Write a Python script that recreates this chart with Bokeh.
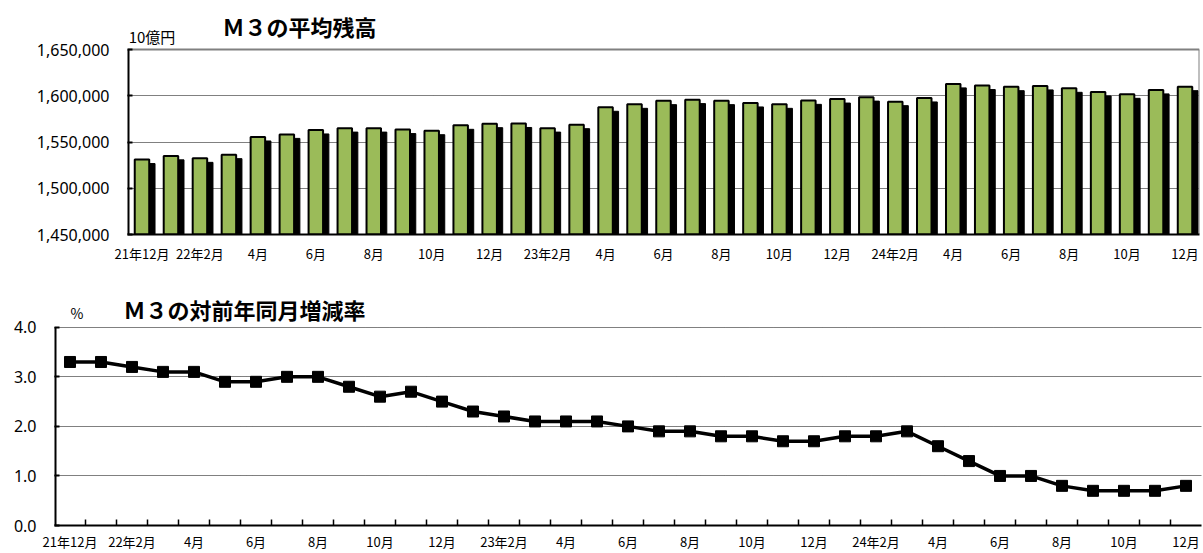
from bokeh.plotting import figure
from bokeh.models import ColumnDataSource, FixedTicker, NumeralTickFormatter, Label, Range1d
from bokeh.layouts import column, row
from bokeh.embed import file_html
from bokeh.resources import INLINE

# ---------------- data ----------------
months = ["21年12月",
          "22年1月", "22年2月", "22年3月", "22年4月", "22年5月", "22年6月",
          "22年7月", "22年8月", "22年9月", "22年10月", "22年11月", "22年12月",
          "23年1月", "23年2月", "23年3月", "23年4月", "23年5月", "23年6月",
          "23年7月", "23年8月", "23年9月", "23年10月", "23年11月", "23年12月",
          "24年1月", "24年2月", "24年3月", "24年4月", "24年5月", "24年6月",
          "24年7月", "24年8月", "24年9月", "24年10月", "24年11月", "24年12月"]

tick_labels = ["21年12月", "22年2月", "4月", "6月", "8月", "10月", "12月",
               "23年2月", "4月", "6月", "8月", "10月", "12月",
               "24年2月", "4月", "6月", "8月", "10月", "12月"]

# M3 average outstanding (10億円)
m3_balance = [1531000, 1535000, 1532300, 1536300, 1555400, 1558200, 1563000,
              1565000, 1565000, 1563400, 1562200, 1568000, 1569800,
              1570000, 1565000, 1568700, 1587500, 1590700, 1594700,
              1595800, 1594700, 1592200, 1590700, 1595000, 1596400,
              1598500, 1593600, 1597600, 1612800, 1611000, 1609800,
              1610600, 1608000, 1604100, 1601500, 1606300, 1609800]
bal_ticks = [1450000, 1500000, 1550000, 1600000, 1650000]

# M3 year-on-year change (%)
m3_yoy = [3.3, 3.3, 3.2, 3.1, 3.1, 2.9, 2.9, 3.0, 3.0, 2.8, 2.6, 2.7, 2.5,
          2.3, 2.2, 2.1, 2.1, 2.1, 2.0, 1.9, 1.9, 1.8, 1.8, 1.7, 1.7,
          1.8, 1.8, 1.9, 1.6, 1.3, 1.0, 1.0, 0.8, 0.7, 0.7, 0.7, 0.8]
yoy_ticks = [0, 1, 2, 3, 4]

n = len(months)
xs = list(range(n))
tick_pos = xs[::2]
overrides = {p: lab for p, lab in zip(tick_pos, tick_labels)}
xl, xr = -0.5, n - 0.5

JP = "Noto Sans CJK JP"
NUM = "Noto Sans"
W = 1202
H_TOTAL = 553

# ---------------- top: bar chart ----------------
# frame reaches the canvas top so that the title texts can sit inside it
H1 = 274
y0, y1 = bal_ticks[0], bal_ticks[-1]
fb = 234                     # frame bottom (px from canvas top)
ppu1 = 185.0 / (y1 - y0)     # px per unit: 1,650,000 at 49px, 1,450,000 at 234px
ytop1 = y0 + fb / ppu1
p1 = figure(width=W, height=H1, output_backend="svg", toolbar_location=None,
            x_range=Range1d(xl, xr), y_range=Range1d(y0, ytop1),
            min_border_left=127, min_border_right=3, min_border_top=0,
            min_border_bottom=H1 - fb)

src = ColumnDataSource(dict(
    x=xs, xs=[x + 0.2 for x in xs], top=m3_balance,
    top_s=[v - 4300 for v in m3_balance]))

p1.vbar(x="xs", top="top_s", bottom=y0, width=0.5, source=src,
        fill_color="black", line_color="black")
p1.vbar(x="x", top="top", bottom=y0, width=0.5, source=src,
        fill_color="#9BBB59", line_color="black", line_width=2)

# plot-area border (top gray, right gray) and left axis line
p1.segment(x0=[xl, xr], y0=[y1, y0], x1=[xr, xr], y1=[y1, y1],
           line_color="#808080", line_width=2)
p1.segment(x0=[xl], y0=[y0], x1=[xl], y1=[y1], line_color="black", line_width=4)

p1.outline_line_color = None
p1.xgrid.grid_line_color = None
p1.ygrid.grid_line_color = "black"
p1.ygrid.grid_line_dash = "1 1"
p1.ygrid.grid_line_width = 1
p1.ygrid.ticker = FixedTicker(ticks=bal_ticks[1:-1])

p1.yaxis.ticker = FixedTicker(ticks=bal_ticks)
p1.yaxis.formatter = NumeralTickFormatter(format="0,0")
p1.yaxis.axis_line_color = None
p1.yaxis.major_tick_in = 5
p1.yaxis.major_tick_out = 0
p1.yaxis.major_tick_line_width = 2
p1.yaxis.minor_tick_line_color = None
p1.yaxis.major_label_text_font = NUM
p1.yaxis.major_label_text_font_size = "16px"
p1.yaxis.major_label_text_color = "black"
p1.yaxis.major_label_standoff = 18

p1.xaxis.ticker = FixedTicker(ticks=tick_pos)
p1.xaxis.major_label_overrides = overrides
p1.xaxis.axis_line_color = "black"
p1.xaxis.axis_line_width = 2
p1.xaxis.major_tick_line_color = None
p1.xaxis.minor_tick_line_color = None
p1.xaxis.major_label_text_font = JP
p1.xaxis.major_label_text_font_size = "13px"
p1.xaxis.major_label_text_color = "black"
p1.xaxis.major_label_standoff = 3

p1.add_layout(Label(x=2.78, y=y1 + 24 / ppu1, text="Ｍ３の平均残高", text_font=JP,
                    text_font_size="22px", text_font_style="bold",
                    text_align="left", text_baseline="middle", text_color="black"))
p1.add_layout(Label(x=xl + 0.04, y=y1 + 13.5 / ppu1, text="10億円", text_font=JP,
                    text_font_size="15px", text_align="left",
                    text_baseline="middle", text_color="black"))

# ---------------- bottom: line chart ----------------
H2 = H_TOTAL - H1
fb2 = 526 - H1               # frame bottom inside p2
ppu2 = 199.0 / 4             # px per percent
ytop2 = fb2 / ppu2
p2 = figure(width=W, height=H2, output_backend="svg", toolbar_location=None,
            x_range=Range1d(xl, xr), y_range=Range1d(0, ytop2),
            min_border_left=54, min_border_right=1, min_border_top=0,
            min_border_bottom=H2 - fb2)

p2.segment(x0=[xl], y0=[yoy_ticks[0]], x1=[xl], y1=[yoy_ticks[-1]],
           line_color="black", line_width=4)

src2 = ColumnDataSource(dict(x=xs, y=m3_yoy))
p2.line(x="x", y="y", source=src2, line_color="black", line_width=3.5)
p2.scatter(x="x", y="y", source=src2, marker="square", size=11,
           fill_color="black", line_color="black")

p2.outline_line_color = None
p2.xgrid.grid_line_color = None
p2.ygrid.grid_line_color = "black"
p2.ygrid.grid_line_dash = "1 1"
p2.ygrid.grid_line_width = 1
p2.ygrid.ticker = FixedTicker(ticks=yoy_ticks[1:])

p2.yaxis.ticker = FixedTicker(ticks=yoy_ticks)
p2.yaxis.formatter = NumeralTickFormatter(format="0.0")
p2.yaxis.axis_line_color = None
p2.yaxis.major_tick_in = 5
p2.yaxis.major_tick_out = 0
p2.yaxis.major_tick_line_width = 2
p2.yaxis.minor_tick_line_color = None
p2.yaxis.major_label_text_font = NUM
p2.yaxis.major_label_text_font_size = "16px"
p2.yaxis.major_label_text_color = "black"
p2.yaxis.major_label_standoff = 18

p2.xaxis.ticker = FixedTicker(ticks=tick_pos, minor_ticks=[x + 0.5 for x in xs[:-1]])
p2.xaxis.major_label_overrides = overrides
p2.xaxis.axis_line_color = "black"
p2.xaxis.axis_line_width = 2
p2.xaxis.major_tick_line_color = None
p2.xaxis.minor_tick_in = 6
p2.xaxis.minor_tick_out = 0
p2.xaxis.minor_tick_line_color = "black"
p2.xaxis.minor_tick_line_width = 1.5
p2.xaxis.major_label_text_font = JP
p2.xaxis.major_label_text_font_size = "13px"
p2.xaxis.major_label_text_color = "black"
p2.xaxis.major_label_standoff = 0

p2.add_layout(Label(x=1.726, y=4 + 18 / ppu2, text="Ｍ３の対前年同月増減率", text_font=JP,
                    text_font_size="22px", text_font_style="bold",
                    text_align="left", text_baseline="middle", text_color="black"))
p2.add_layout(Label(x=0.016, y=4 + 14 / ppu2, text="%", text_font=JP,
                    text_font_size="14px", text_align="left",
                    text_baseline="middle", text_color="black"))

layout = column(row(p1), row(p2))
open("out.html", "w").write(file_html(layout, INLINE))
